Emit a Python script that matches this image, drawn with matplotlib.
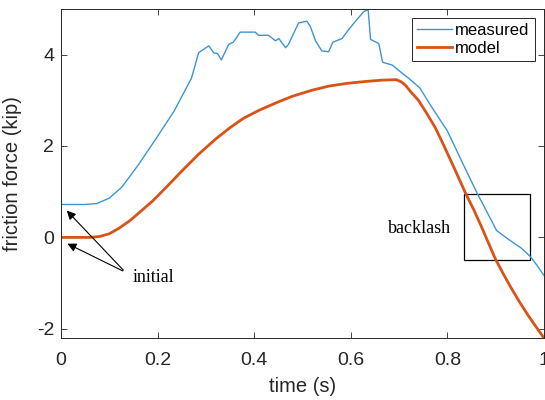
import numpy as np
import matplotlib
matplotlib.use('Agg')
import matplotlib.pyplot as plt
from matplotlib.patches import Rectangle
from matplotlib.ticker import FuncFormatter

# measured friction force (kip)
t_meas = [0, 0.05, 0.074, 0.1, 0.126, 0.161, 0.198, 0.234, 0.27, 0.285, 0.306,
          0.316, 0.324, 0.332, 0.347, 0.357, 0.371, 0.402, 0.409, 0.43, 0.444,
          0.451, 0.465, 0.471, 0.482, 0.492, 0.509, 0.516, 0.527, 0.54, 0.554,
          0.563, 0.582, 0.596, 0.61, 0.627, 0.636, 0.641, 0.658, 0.666, 0.686,
          0.702, 0.72, 0.743, 0.764, 0.78, 0.80, 0.826, 0.862, 0.88, 0.902,
          0.925, 0.954, 0.971, 0.985, 1.0]
f_meas = [0.72, 0.72, 0.74, 0.86, 1.1, 1.6, 2.18, 2.76, 3.48, 4.04, 4.19,
          4.04, 4.02, 3.88, 4.22, 4.27, 4.49, 4.49, 4.42, 4.42, 4.30,
          4.35, 4.15, 4.22, 4.47, 4.69, 4.73, 4.62, 4.30, 4.08, 4.06,
          4.27, 4.35, 4.55, 4.73, 4.94, 4.98, 4.33, 4.24, 3.83, 3.77,
          3.63, 3.48, 3.27, 2.91, 2.65, 2.33, 1.75, 0.96, 0.6, 0.15,
          -0.03, -0.24, -0.41, -0.6, -0.83]

# model friction force (kip)
t_model = [0, 0.03, 0.06, 0.08, 0.1, 0.12, 0.143, 0.165, 0.19, 0.22, 0.25,
           0.285, 0.32, 0.35, 0.377, 0.41, 0.449, 0.48, 0.52, 0.555, 0.593,
           0.63, 0.665, 0.694, 0.705, 0.714, 0.723, 0.74, 0.757, 0.775,
           0.791, 0.815, 0.838, 0.855, 0.87, 0.899, 0.915, 0.933, 0.95,
           0.967, 0.984, 1.0]
f_model = [0, 0, 0, 0.02, 0.08, 0.2, 0.37, 0.57, 0.8, 1.12, 1.45,
           1.82, 2.15, 2.40, 2.60, 2.78, 2.96, 3.09, 3.22, 3.31, 3.37,
           3.41, 3.44, 3.45, 3.40, 3.32, 3.2, 3.0, 2.72, 2.4,
           2.05, 1.5, 0.96, 0.6, 0.25, -0.46, -0.78, -1.12, -1.42,
           -1.70, -1.96, -2.2]

gray = '#262626'
plt.rcParams['font.family'] = ['Liberation Sans', 'DejaVu Sans']
plt.rcParams['axes.unicode_minus'] = False

fig = plt.figure(figsize=(5.45, 4.0), dpi=100)
ax = fig.add_axes([0.112, 0.155, 0.886, 0.823])

ax.plot(t_meas, f_meas, color='#3d95d4', lw=1.0, label='measured')
ax.plot(t_model, f_model, color='#D95319', lw=2.0, label='model')

ax.set_xlim(0, 1)
ax.set_ylim(-2.2, 5)
ax.set_xticks(np.arange(0, 1.01, 0.2))
ax.set_yticks([-2, 0, 2, 4])
ax.xaxis.set_major_formatter(FuncFormatter(lambda v, p: '%g' % round(v, 2)))
ax.tick_params(direction='in', top=True, right=True, labelsize=14,
               colors=gray, length=4, width=0.6)
ax.tick_params(axis='x', pad=10)
ax.tick_params(axis='y', pad=5)
for s in ax.spines.values():
    s.set_color(gray)
    s.set_linewidth(0.7)

ax.set_xlabel('time (s)', fontsize=14.5, color=gray, labelpad=6)
ax.set_ylabel('friction force (kip)', fontsize=14.5, color=gray)
ax.yaxis.set_label_coords(-0.081, 0.5)

leg = ax.legend(loc='upper right', bbox_to_anchor=(0.981, 0.973),
                borderaxespad=0, fontsize=12, fancybox=False, framealpha=1,
                handlelength=2.1, handletextpad=0.2, borderpad=0.3,
                labelspacing=0.2)
leg.get_frame().set_edgecolor(gray)
leg.get_frame().set_linewidth(0.7)

# backlash box
ax.add_patch(Rectangle((0.834, -0.5), 0.137, 1.46, fill=False,
                       edgecolor='black', lw=0.9))
ax.text(0.743, 0.2, 'backlash', family='Liberation Serif', fontsize=13,
        ha='center', va='center')

# initial arrows
arrow = dict(arrowstyle='-|>', color='black', lw=0.8, mutation_scale=13)
ax.annotate('', xy=(0.008, 0.63), xytext=(0.133, -0.76), arrowprops=arrow)
ax.annotate('', xy=(0.008, -0.11), xytext=(0.133, -0.76), arrowprops=arrow)
ax.text(0.149, -0.87, 'initial', family='Liberation Serif', fontsize=13,
        ha='left', va='center')

fig.savefig('out.png', dpi=100)
